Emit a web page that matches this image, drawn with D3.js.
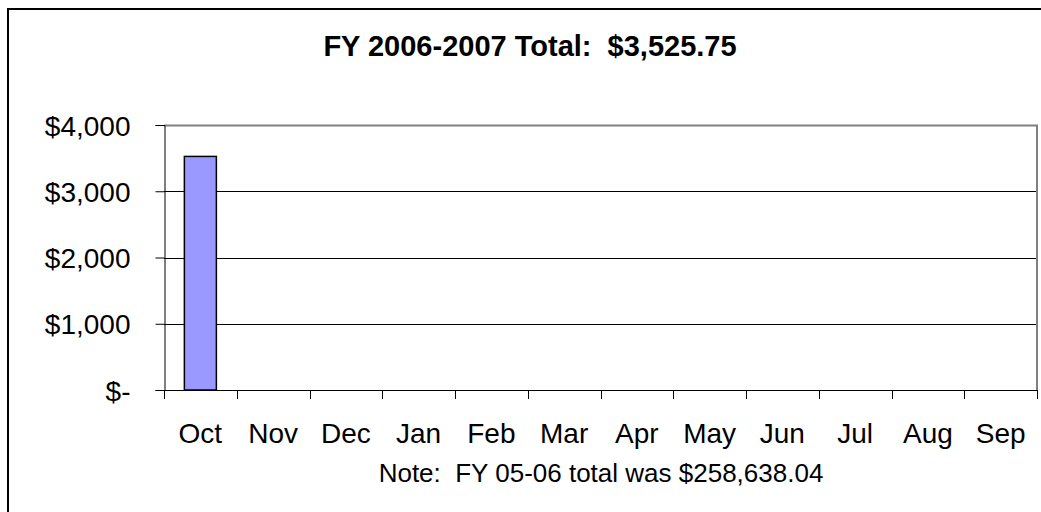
<!DOCTYPE html>
<html>
<head>
<meta charset="utf-8">
<script src="https://cdn.jsdelivr.net/npm/d3@7"></script>
<style>
  body { margin: 0; background: #fff; }
  svg { display: block; font-family: "Liberation Sans", Arial, sans-serif; }
  text { white-space: pre; }
</style>
</head>
<body>
<div id="chart"></div>
<script>
// data
var months = ["Oct", "Nov", "Dec", "Jan", "Feb", "Mar", "Apr", "May", "Jun", "Jul", "Aug", "Sep"];
var totals = [3525.75, null, null, null, null, null, null, null, null, null, null, null];
var yTicks = [0, 1000, 2000, 3000, 4000];
var chartTitle = "FY 2006-2007 Total:  $3,525.75";
var noteText = "Note:  FY 05-06 total was $258,638.04";

// layout
var W = 1041, H = 512;
var plot = { left: 164, right: 1037, top: 125, bottom: 390 };

var svg = d3.select("#chart").append("svg")
    .attr("width", W)
    .attr("height", H);

svg.append("rect").attr("width", W).attr("height", H).attr("fill", "#fff");

// outer chart frame (runs off the right/bottom edge)
svg.append("rect")
    .attr("x", 8).attr("y", 9)
    .attr("width", W + 10).attr("height", H + 10)
    .attr("fill", "none")
    .attr("stroke", "#000")
    .attr("stroke-width", 2);

var x = d3.scaleBand()
    .domain(months)
    .range([plot.left, plot.right])
    .paddingInner(0.56)
    .paddingOuter(0.28);

var y = d3.scaleLinear()
    .domain([0, 4000])
    .range([plot.bottom, plot.top]);

var fmt = function (d) { return d === 0 ? "$-" : "$" + d3.format(",")(d); };

// gridlines
svg.append("g")
    .selectAll("line")
    .data(yTicks.filter(function (d) { return d > 0; }))
    .join("line")
    .attr("x1", plot.left).attr("x2", plot.right)
    .attr("y1", function (d) { return Math.round(y(d)) + 0.5; })
    .attr("y2", function (d) { return Math.round(y(d)) + 0.5; })
    .attr("stroke", "#000")
    .attr("stroke-width", 1);

// plot area border (top / right in grey)
svg.append("path")
    .attr("d", "M" + plot.left + "," + (plot.top + 0.5) + "H" + plot.right + "V" + plot.bottom)
    .attr("fill", "none")
    .attr("stroke", "#808080")
    .attr("stroke-width", 2);

// bars
svg.append("g")
    .selectAll("rect")
    .data(months.map(function (m, i) { return { m: m, v: totals[i] }; })
        .filter(function (d) { return d.v != null; }))
    .join("rect")
    .attr("x", function (d) { return x(d.m); })
    .attr("width", x.bandwidth())
    .attr("y", function (d) { return y(d.v); })
    .attr("height", function (d) { return y(0) - y(d.v); })
    .attr("fill", "#9999ff")
    .attr("stroke", "#000")
    .attr("stroke-width", 1.5);

// y axis
var yAxis = svg.append("g")
    .attr("transform", "translate(" + (plot.left + 0.5) + ",0)")
    .call(d3.axisLeft(y).tickValues(yTicks).tickFormat(fmt).tickSize(9).tickPadding(25));
yAxis.selectAll("line, path").attr("stroke", "#000");
yAxis.selectAll("text")
    .style("font-family", "'Liberation Sans', Arial, sans-serif")
    .style("font-size", "28px")
    .attr("fill", "#000")
    .attr("dy", "0.36em");

// x axis: line, ticks between categories
var step = x.step();
var xAxis = svg.append("g");
xAxis.append("line")
    .attr("x1", plot.left).attr("x2", plot.right)
    .attr("y1", plot.bottom + 0.5).attr("y2", plot.bottom + 0.5)
    .attr("stroke", "#000");
xAxis.selectAll(".tick")
    .data(d3.range(months.length + 1))
    .join("line")
    .attr("class", "tick")
    .attr("x1", function (i) { return Math.round(plot.left + i * step) + 0.5; })
    .attr("x2", function (i) { return Math.round(plot.left + i * step) + 0.5; })
    .attr("y1", plot.bottom)
    .attr("y2", plot.bottom + 9)
    .attr("stroke", "#000");
xAxis.selectAll("text")
    .data(months)
    .join("text")
    .attr("x", function (d) { return x(d) + x.bandwidth() / 2; })
    .attr("y", 443)
    .attr("text-anchor", "middle")
    .style("font-size", "28px")
    .text(function (d) { return d; });

// chart title
svg.append("text")
    .attr("x", 530)
    .attr("y", 56)
    .attr("text-anchor", "middle")
    .style("font-size", "29px")
    .style("font-weight", "bold")
    .text(chartTitle);

// note under the axis
svg.append("text")
    .attr("x", 601)
    .attr("y", 482)
    .attr("text-anchor", "middle")
    .style("font-size", "26px")
    .text(noteText);
</script>
</body>
</html>
